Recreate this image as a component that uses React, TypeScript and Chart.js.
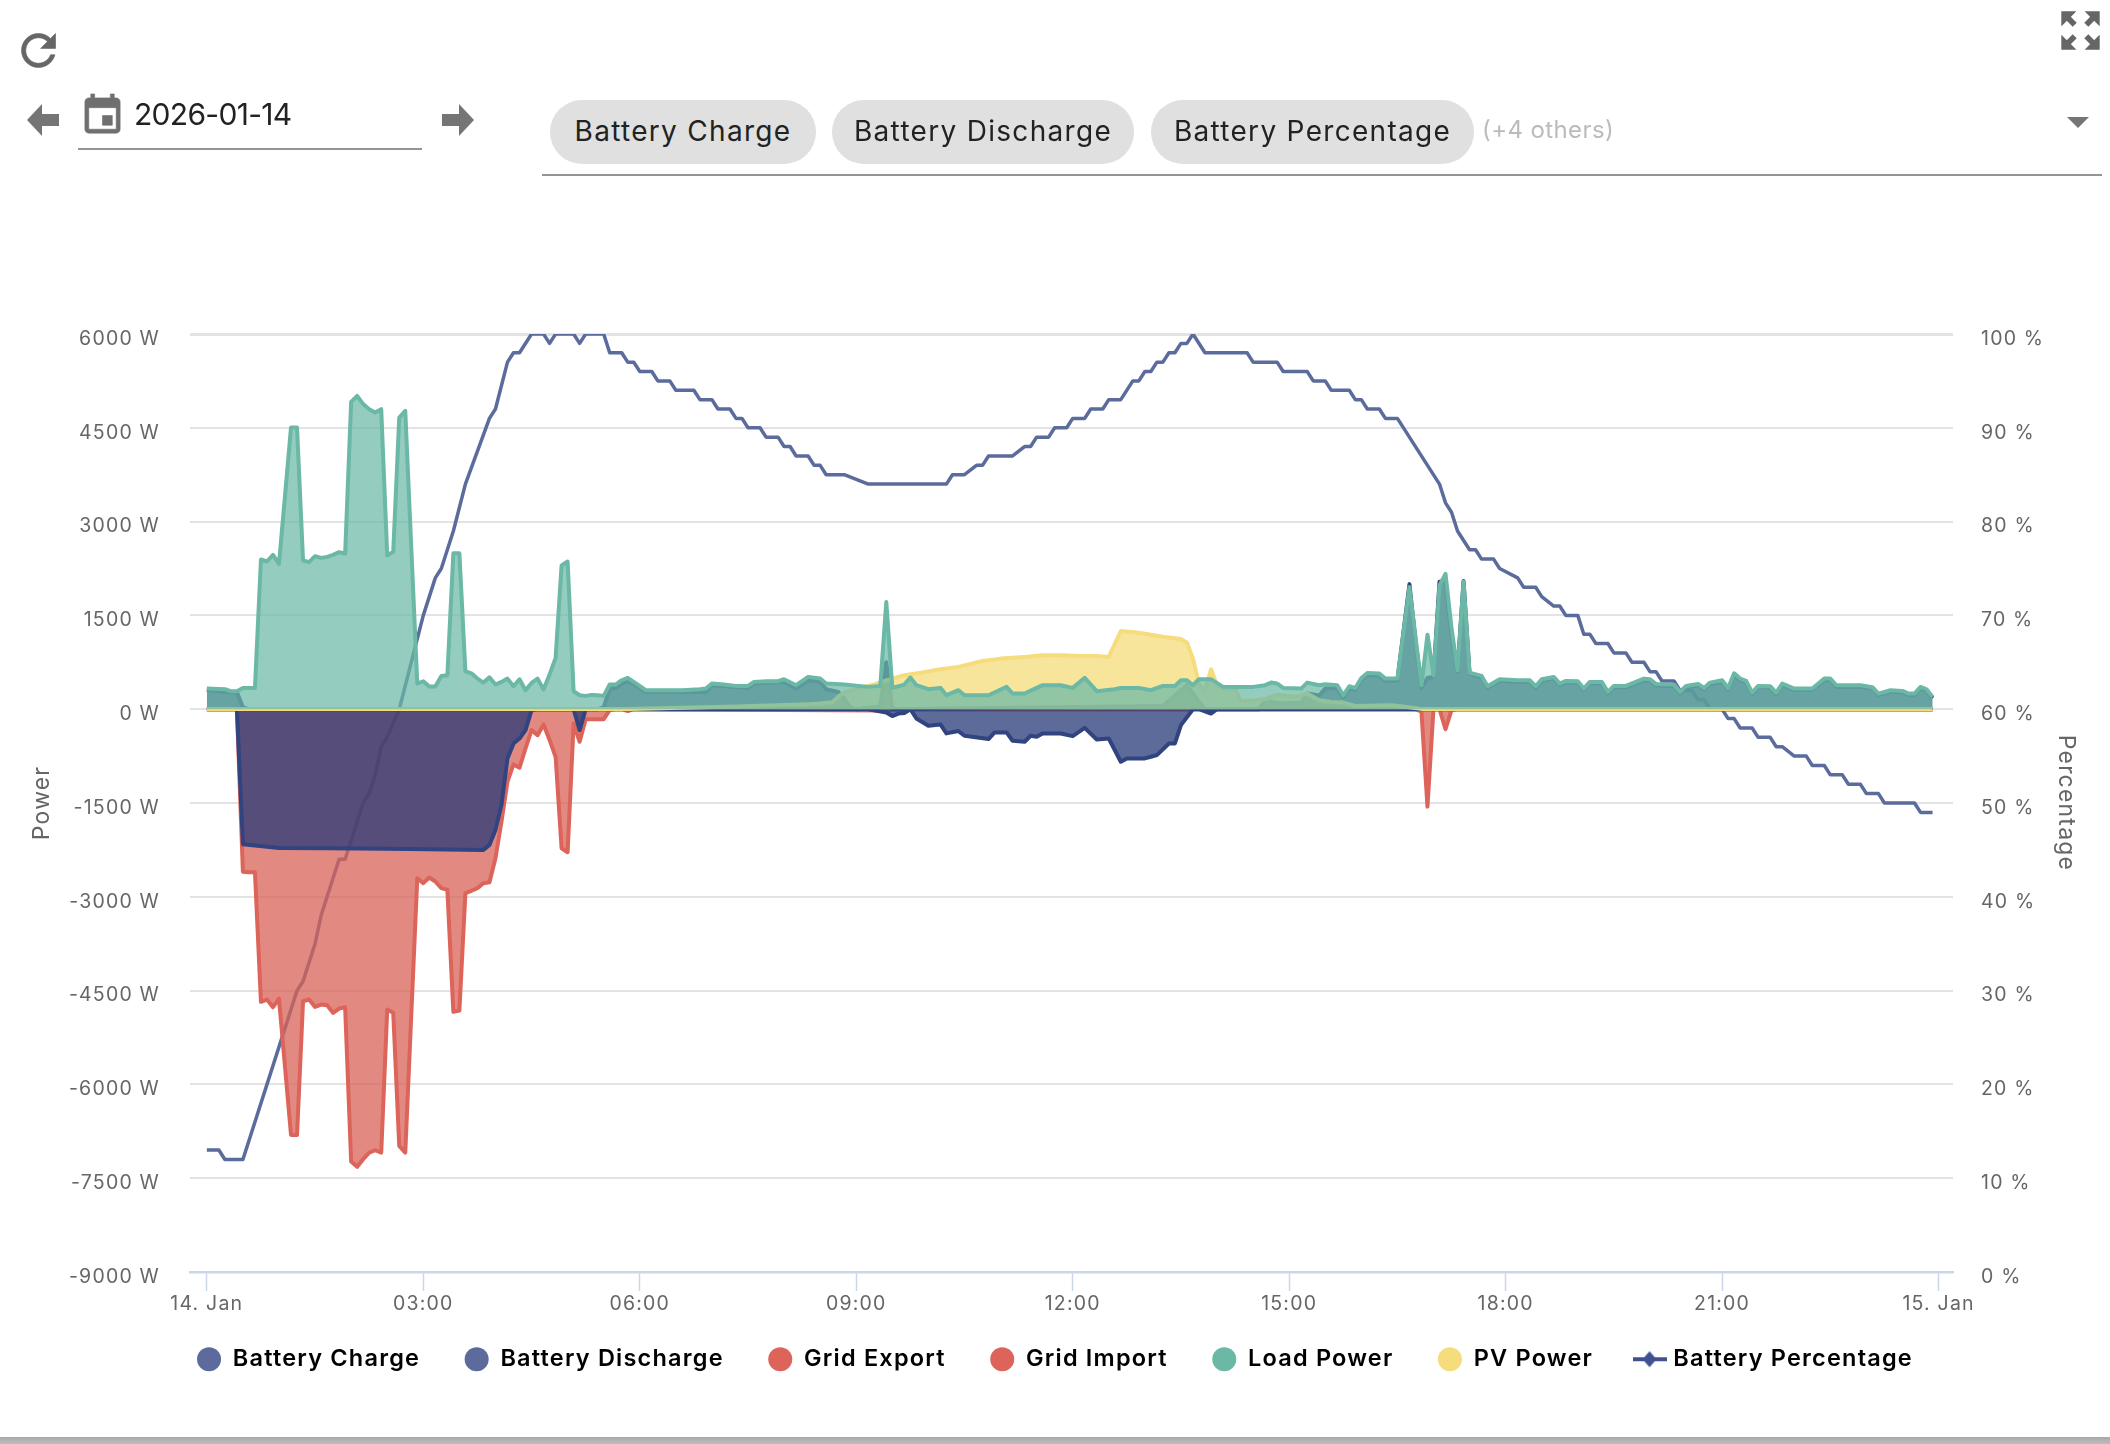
import React, { useEffect, useRef } from "react";
import { Chart, registerables } from "chart.js";

Chart.register(...registerables);

// All series are [five-minute sample number, value] vertices.
const SAMPLE_MINUTES = 5;

const loadPower: [number, number][] = [
  [0,330],[3,320],[4,287],[5,287],[6,340],[8,340],[9,2394],[10,2362],[11,2468],[12,2324],[14,4505],[15,4505],[16,2378],[17,2351],[18,2447],[19,2420],[20,2436],[21,2468],[22,2511],[23,2489],[24,4915],[25,5010],[26,4878],[27,4798],[28,4745],[29,4798],[30,2457],[31,2521],[32,4665],[33,4771],[34,2590],[35,410],[36,447],[37,362],[38,362],[39,532],[40,543],[41,2495],[42,2495],[43,606],[44,574],[45,489],[46,426],[47,511],[48,394],[49,436],[50,489],[51,367],[52,479],[53,303],[54,420],[55,489],[56,314],[57,553],[58,819],[59,2298],[60,2362],[61,287],[62,223],[63,213],[64,229],[65,223],[66,213],[67,394],[68,394],[69,463],[70,500],[71,437],[73,304],[75,304],[77,304],[79,304],[82,320],[83,331],[84,410],[86,394],[88,373],[90,373],[91,437],[93,448],[95,448],[96,480],[98,384],[100,517],[102,490],[103,410],[106,394],[110,357],[112,373],[113,1714],[114,341],[116,394],[117,506],[118,384],[120,320],[122,341],[123,224],[125,304],[126,224],[130,224],[133,357],[134,251],[136,251],[138,341],[139,384],[142,384],[144,341],[146,501],[148,288],[151,320],[152,341],[155,341],[157,304],[159,373],[161,373],[162,464],[163,464],[164,384],[165,480],[167,480],[169,357],[174,357],[176,384],[177,426],[178,410],[179,340],[182,330],[183,425],[185,383],[186,399],[188,383],[189,223],[190,367],[191,340],[192,500],[193,580],[195,569],[196,489],[198,489],[200,1952],[202,383],[203,1192],[204,543],[205,1980],[206,2165],[207,1300],[208,622],[209,2042],[210,585],[212,532],[213,367],[215,479],[218,463],[220,463],[221,367],[222,479],[224,516],[225,410],[226,452],[228,447],[229,330],[230,436],[232,436],[233,277],[234,372],[236,372],[239,489],[240,479],[241,404],[244,393],[245,277],[246,372],[248,404],[249,340],[250,425],[252,463],[253,340],[254,574],[255,489],[256,452],[257,266],[258,372],[260,367],[261,266],[262,410],[264,330],[267,330],[269,489],[270,489],[271,383],[275,383],[277,351],[278,250],[280,303],[282,292],[283,250],[284,250],[285,356],[286,319],[287,197],
];

const pvPower: [number, number][] = [
  [0,5],[70,5],[88,45],[100,80],[102,90],[104,110],[105,200],[106,270],[109,350],[111,395],[113,460],[116,543],[119,586],[122,639],[125,676],[129,772],[132,809],[136,836],[139,862],[142,862],[145,852],[148,852],[150,836],[152,1251],[155,1224],[159,1160],[162,1123],[163,1065],[164,809],[165,400],[166,300],[167,639],[168,384],[169,320],[171,330],[172,130],[174,140],[176,160],[178,230],[181,200],[183,250],[185,143],[187,117],[189,106],[191,53],[197,64],[200,30],[202,5],[287,5],
];

const batteryDischarge: [number, number][] = [
  [0,310],[4,270],[5,270],[6,30],[7,0],[65,0],[66,30],[67,330],[68,340],[69,410],[70,450],[71,400],[73,277],[83,277],[84,384],[90,341],[91,410],[96,437],[98,330],[100,464],[102,437],[103,320],[105,277],[106,170],[107,30],[108,0],[112,40],[113,750],[114,0],[159,50],[163,384],[165,120],[166,0],[175,0],[176,150],[178,100],[182,100],[183,250],[185,220],[186,330],[188,340],[189,190],[190,330],[191,310],[192,470],[193,550],[195,540],[196,460],[198,460],[200,2000],[201,1100],[202,340],[203,500],[204,520],[205,2040],[206,2050],[207,1180],[208,600],[209,2050],[210,570],[212,510],[213,345],[215,455],[218,440],[220,440],[221,345],[222,455],[224,495],[225,390],[226,430],[228,425],[229,310],[230,415],[232,415],[233,255],[234,350],[236,350],[239,465],[240,455],[241,380],[244,370],[245,255],[246,350],[248,380],[249,320],[250,400],[252,440],[253,320],[254,550],[255,465],[256,430],[257,245],[258,350],[260,345],[261,245],[262,390],[264,310],[267,310],[269,465],[270,465],[271,360],[275,360],[277,330],[278,230],[280,280],[282,270],[283,230],[284,230],[285,335],[286,300],[287,175],
];

const batteryCharge: [number, number][] = [
  [0,0],[5,0],[6,-2160],[12,-2220],[20,-2222],[30,-2233],[40,-2245],[46,-2250],[47,-2170],[48,-1930],[49,-1530],[50,-787],[51,-547],[52,-468],[53,-335],[54,-15],[55,0],[61,0],[62,-335],[63,0],[110,0],[113,-52],[114,-110],[115,-70],[116,-60],[117,0],[118,-148],[120,-265],[122,-244],[123,-387],[125,-350],[126,-425],[130,-478],[131,-371],[133,-371],[134,-505],[136,-521],[137,-425],[138,-441],[139,-388],[142,-388],[144,-431],[146,-298],[148,-484],[150,-468],[152,-840],[153,-787],[156,-787],[157,-761],[158,-734],[160,-548],[161,-548],[162,-255],[164,0],[165,0],[167,-70],[168,0],[287,0],
];

const gridImport: [number, number][] = [
  [0,0],[5,0],[6,-2600],[7,-2606],[8,-2606],[9,-4680],[10,-4643],[11,-4766],[12,-4627],[14,-6808],[15,-6808],[16,-4670],[17,-4643],[18,-4760],[19,-4723],[20,-4734],[21,-4856],[22,-4787],[23,-4766],[24,-7234],[25,-7318],[26,-7196],[27,-7090],[28,-7053],[29,-7090],[30,-4803],[31,-4856],[32,-6983],[33,-7090],[34,-4883],[35,-2702],[36,-2782],[37,-2691],[38,-2755],[39,-2861],[40,-2888],[41,-4840],[42,-4819],[43,-2941],[44,-2904],[45,-2861],[46,-2782],[47,-2766],[48,-2383],[49,-1797],[50,-1159],[51,-883],[52,-936],[53,-627],[54,-335],[55,-415],[56,-244],[57,-494],[58,-760],[59,-2223],[60,-2287],[61,-228],[62,-521],[63,-159],[66,-159],[67,-15],[68,0],[69,0],[70,-30],[71,0],[113,-20],[114,0],[201,0],[202,-40],[203,-1558],[204,0],[205,0],[206,-320],[207,-15],[208,0],[287,0],
];

const gridExport: [number, number][] = [[0,0],[287,0]];

const batteryPercentage: [number, number][] = [
  [0,13],[2,13],[3,12],[6,12],[15,30],[16,31],[18,35],[19,38],[22,44],[23,44],[26,50],[27,51],[28,53],[29,56],[30,57],[32,60],[34,65],[36,70],[38,74],[39,75],[41,79],[43,84],[47,91],[48,92],[50,97],[51,98],[52,98],[54,100],[56,100],[57,99],[58,100],[61,100],[62,99],[63,100],[66,100],[67,98],[69,98],[70,97],[71,97],[72,96],[74,96],[75,95],[77,95],[78,94],[81,94],[82,93],[84,93],[85,92],[87,92],[88,91],[89,91],[90,90],[92,90],[93,89],[95,89],[96,88],[97,88],[98,87],[100,87],[101,86],[102,86],[103,85],[106,85],[110,84],[123,84],[124,85],[126,85],[128,86],[129,86],[130,87],[134,87],[136,88],[137,88],[138,89],[140,89],[141,90],[143,90],[144,91],[146,91],[147,92],[149,92],[150,93],[152,93],[154,95],[155,95],[156,96],[157,96],[158,97],[159,97],[160,98],[161,98],[162,99],[163,99],[164,100],[166,98],[173,98],[174,97],[178,97],[179,96],[183,96],[184,95],[186,95],[187,94],[190,94],[191,93],[192,93],[193,92],[195,92],[196,91],[198,91],[205,84],[206,82],[207,81],[208,79],[210,77],[211,77],[212,76],[214,76],[215,75],[218,74],[219,73],[221,73],[222,72],[224,71],[225,71],[226,70],[228,70],[229,68],[230,68],[231,67],[233,67],[234,66],[236,66],[237,65],[239,65],[240,64],[241,64],[242,63],[244,63],[245,62],[247,62],[248,61],[249,61],[250,60],[252,60],[253,59],[254,59],[255,58],[257,58],[258,57],[260,57],[261,56],[262,56],[264,55],[266,55],[267,54],[269,54],[270,53],[272,53],[273,52],[275,52],[276,51],[278,51],[279,50],[284,50],[285,49],[287,49],
];

const xTickMinutes = [0, 180, 360, 540, 720, 900, 1080, 1260, 1440];
const xTickLabels = ["14. Jan", "03:00", "06:00", "09:00", "12:00", "15:00", "18:00", "21:00", "15. Jan"];

const headerChips = ["Battery Charge", "Battery Discharge", "Battery Percentage"];

const FONT = "Inter, 'Noto Sans', sans-serif";
const toXY = (s: [number, number][]) => s.map(([i, v]) => ({ x: i * SAMPLE_MINUTES, y: v }));

function makeMarker() {
  const c = document.createElement("canvas");
  c.width = 34;
  c.height = 24;
  const g = c.getContext("2d")!;
  g.fillStyle = "#3f5190";
  g.fillRect(0, 10, 34, 4);
  g.beginPath();
  g.moveTo(17, 4);
  g.lineTo(24, 12);
  g.lineTo(17, 20);
  g.lineTo(10, 12);
  g.closePath();
  g.fill();
  return c;
}

const Icon = ({ left, top, size, d, fill = "#666", stroke = 0.3 }: any) => (
  <svg style={{ position: "absolute", left, top, width: size, height: size }} viewBox="0 0 24 24">
    <path d={d} fill={fill} stroke={fill} strokeWidth={stroke} />
  </svg>
);

const abs = (o: any): any => ({ position: "absolute", ...o });

const spacingPlugin = {
  id: "textSpacing",
  beforeUpdate(c: any) { c.ctx.letterSpacing = "1.2px"; },
  beforeDraw(c: any) { c.ctx.letterSpacing = "1.2px"; },
  afterLayout(c: any) {
    c.legend.top = 1303;
  },
};

export default function App() {
  const ref = useRef<HTMLCanvasElement>(null);
  useEffect(() => {
    document.body.style.margin = "0";
    document.body.style.background = "#fff";
    const marker = makeMarker();
    const series = [
      { label: "Battery Charge", data: batteryCharge, line: "rgb(50,68,128)", fill: "rgba(39,58,120,0.75)", legend: "rgb(92,107,155)", order: 3 },
      { label: "Battery Discharge", data: batteryDischarge, line: "rgb(50,68,128)", fill: "rgba(39,58,120,0.75)", legend: "rgb(92,107,155)", order: 2 },
      { label: "Grid Export", data: gridExport, line: "rgb(221,100,90)", fill: "rgba(216,99,88,0.75)", legend: "rgb(221,100,90)", order: 5 },
      { label: "Grid Import", data: gridImport, line: "rgb(221,100,90)", fill: "rgba(216,99,88,0.75)", legend: "rgb(221,100,90)", order: 4 },
      { label: "Load Power", data: loadPower, line: "rgb(107,184,166)", fill: "rgba(107,184,166,0.72)", legend: "rgb(107,184,166)", order: 0 },
      { label: "PV Power", data: pvPower, line: "rgb(245,220,125)", fill: "rgba(243,220,122,0.75)", legend: "rgb(245,220,125)", order: 1 },
    ];
    const chart = new Chart(ref.current!, {
      type: "line",
      plugins: [spacingPlugin],
      data: {
        datasets: [
          ...series.map((s) => ({
            label: s.label,
            data: toXY(s.data),
            yAxisID: "y",
            borderColor: s.line,
            backgroundColor: s.fill,
            borderWidth: 4,
            borderJoinStyle: "round" as const,
            pointRadius: 0,
            tension: 0,
            fill: "origin",
            order: s.order,
          })),
          {
            label: "Battery Percentage",
            data: toXY(batteryPercentage),
            yAxisID: "y1",
            borderColor: "rgb(90,107,156)",
            backgroundColor: "rgb(90,107,156)",
            borderWidth: 3.5,
            borderJoinStyle: "round" as const,
            pointRadius: 0,
            tension: 0,
            fill: false,
            order: 6,
          },
        ],
      },
      options: {
        responsive: false,
        animation: false,
        devicePixelRatio: 1,
        layout: { padding: { top: 334, left: 0, right: 0, bottom: 0 } },
        plugins: {
          tooltip: { enabled: false },
          title: { display: false },
          legend: {
            position: "bottom",
            align: "center",
            labels: {
              usePointStyle: true,
              pointStyleWidth: 24,
              boxHeight: 17,
              padding: 44.5,
              color: "#333",
              font: { family: FONT, size: 23.5, weight: "600" as any },
              generateLabels: () =>
                [...series.map((s) => ({ text: s.label, fillStyle: s.legend, strokeStyle: s.legend, lineWidth: 0, pointStyle: "circle" as any })),
                 { text: "Battery Percentage", fillStyle: "#3f5190", strokeStyle: "#3f5190", lineWidth: 0, pointStyle: marker as any }] as any,
            },
          },
        },
        scales: {
          x: {
            type: "linear",
            min: -14,
            max: 1452,
            afterBuildTicks: (a: any) => { a.ticks = xTickMinutes.map((value) => ({ value })); },
            afterFit: (a: any) => { a.height = 50; },
            grid: { drawOnChartArea: false, drawTicks: true, tickLength: 19, tickColor: "#ccd6eb", tickWidth: 1.5 },
            border: { display: true, color: "#ccd6eb", width: 2.5 },
            ticks: {
              autoSkip: false, maxRotation: 0, minRotation: 0, padding: 1, color: "#666",
              font: { family: FONT, size: 19.5 },
              callback: (v: any) => xTickLabels[xTickMinutes.indexOf(Number(v))] ?? "",
            },
          },
          y: {
            position: "left",
            min: -9000,
            max: 6000,
            afterFit: (a: any) => { a.width = 190; },
            grid: { color: "#e3e3e3", lineWidth: (c: any) => (c.tick && c.tick.value === 6000 ? 3 : 2), drawTicks: false },
            border: { display: false },
            title: { display: true, text: "Power", color: "#666", font: { family: FONT, size: 23 }, padding: { top: 28, bottom: 0 } },
            ticks: {
              stepSize: 1500, padding: 30, labelOffset: 5, color: "#666",
              font: { family: FONT, size: 19.5 },
              callback: (v: any) => `${v} W`,
            },
          },
          y1: {
            position: "right",
            min: 0,
            max: 100,
            afterFit: (a: any) => { a.width = 157; },
            grid: { drawOnChartArea: false, drawTicks: false },
            border: { display: false },
            title: { display: true, text: "Percentage", color: "#666", font: { family: FONT, size: 23 }, padding: { top: 30, bottom: 0 } },
            ticks: {
              stepSize: 10, padding: 28, labelOffset: 5, color: "#666",
              font: { family: FONT, size: 19.5 },
              callback: (v: any) => `${v} %`,
            },
          },
        },
      } as any,
    });
    return () => chart.destroy();
  }, []);

  const chipLeft = [550, 832, 1151];
  const chipWidth = [266, 302, 323];
  return (
    <div style={abs({ left: 0, top: 0, width: 2110, height: 1444, overflow: "hidden", background: "#fff", fontFamily: FONT })}>
      <canvas ref={ref} width={2110} height={1400} style={abs({ left: 0, top: 0, width: 2110, height: 1400 })} />
      <Icon left={13} top={25} size={51} d="M17.65 6.35C16.2 4.9 14.21 4 12 4c-4.42 0-7.99 3.58-7.99 8s3.57 8 7.99 8c3.73 0 6.84-2.55 7.73-6h-2.08c-.82 2.33-3.04 4-5.65 4-3.31 0-6-2.69-6-6s2.69-6 6-6c1.66 0 3.14.69 4.22 1.78L13 11h7V4l-2.35 2.35z" />
      <Icon left={2056} top={6} size={49} stroke={0.8} d="M15 3l2.3 2.3-2.89 2.87 1.42 1.42L18.7 6.7 21 9V3zM3 9l2.3-2.3 2.87 2.89 1.42-1.42L6.7 5.3 9 3H3zm6 12l-2.3-2.3 2.89-2.87-1.42-1.42L5.3 17.3 3 15v6zm12-6l-2.3 2.3-2.87-2.89-1.42 1.42 2.89 2.87L15 21h6z" />
      <Icon left={79} top={92} size={47} fill="#6f6f6f" d="M17 12h-5v5h5v-5zM16 1v2H8V1H6v2H5c-1.11 0-1.99.9-1.99 2L3 19c0 1.1.89 2 2 2h14c1.1 0 2-.9 2-2V5c0-1.1-.9-2-2-2h-1V1h-2zm3 18H5V8h14v11z" />
      <svg style={abs({ left: 27, top: 104, width: 32, height: 32 })} viewBox="0 0 32 32"><path d="M0 16 15 0V10H32V22H15V32z" fill="#757575" /></svg>
      <svg style={abs({ left: 442, top: 104, width: 32, height: 32 })} viewBox="0 0 32 32"><path d="M32 16 17 0V10H0V22H17V32z" fill="#757575" /></svg>
      <div style={abs({ left: 134, top: 94, fontSize: 30, lineHeight: "40px", color: "#222", letterSpacing: "-0.7px" })}>2026-01-14</div>
      <div style={abs({ left: 78, top: 148, width: 344, height: 2, background: "#949494" })} />
      {headerChips.map((t, i) => (
        <div key={t} style={abs({ left: chipLeft[i], top: 100, width: chipWidth[i], height: 64, borderRadius: 32, background: "#e0e0e0", color: "#222", fontSize: 28, letterSpacing: "1.3px", lineHeight: "62px", textAlign: "center", whiteSpace: "nowrap" })}>{t}</div>
      ))}
      <div style={abs({ left: 1482, top: 112, fontSize: 24, letterSpacing: "0.4px", lineHeight: "36px", color: "#bbb" })}>(+4 others)</div>
      <svg style={abs({ left: 2067, top: 117, width: 22, height: 11 })} viewBox="0 0 22 11"><path d="M0 0H22L11 11z" fill="#757575" /></svg>
      <div style={abs({ left: 542, top: 174, width: 1560, height: 2, background: "#949494" })} />
      <div style={abs({ left: 0, top: 1437, width: 2110, height: 7, background: "linear-gradient(#a9a9a9,#bdbdbd)" })} />
    </div>
  );
}
